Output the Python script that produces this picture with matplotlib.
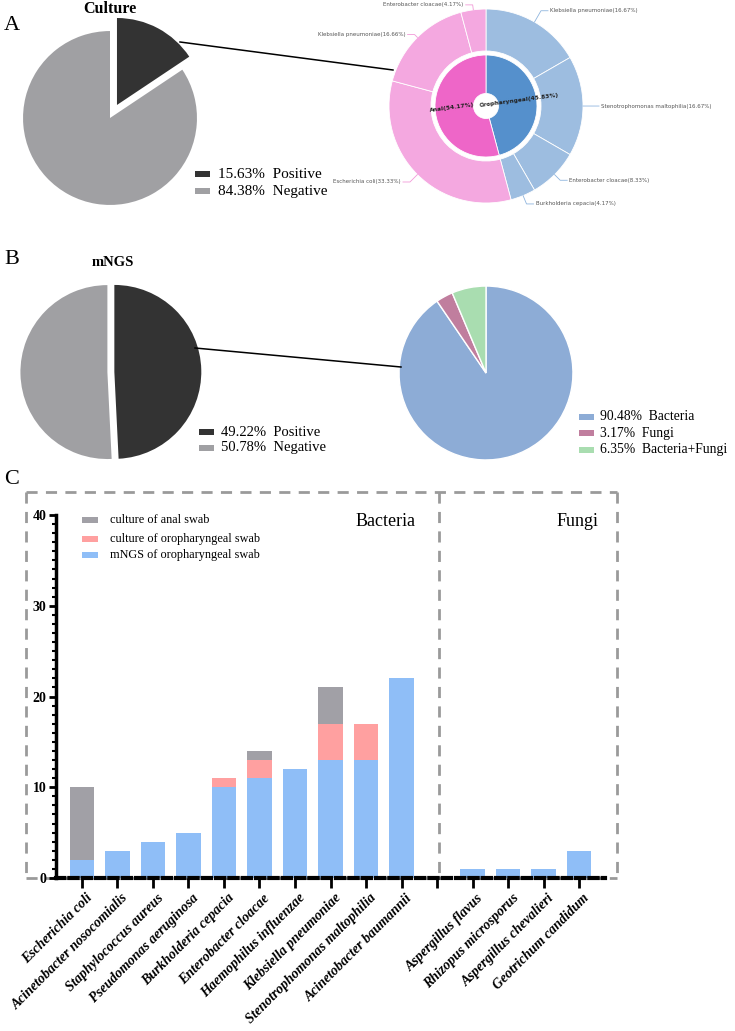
import numpy as np
import matplotlib
matplotlib.use("Agg")
import matplotlib.pyplot as plt
from matplotlib.lines import Line2D
from matplotlib.patches import Rectangle
from matplotlib.transforms import ScaledTranslation

plt.rcParams['font.family'] = ['Liberation Serif', 'DejaVu Serif']

# ---------------- data ----------------
culture_labels = ['Positive', 'Negative']
culture_pct = [15.63, 84.38]

ring_inner_labels = ['Oropharyngeal', 'Anal']
ring_inner_pct = [45.83, 54.17]

ring_outer_labels = ['Klebsiella pneumoniae', 'Stenotrophomonas maltophilia', 'Enterobacter cloacae',
                     'Burkholderia cepacia', 'Escherichia coli', 'Klebsiella pneumoniae',
                     'Enterobacter cloacae']
ring_outer_pct = [16.67, 16.67, 8.33, 4.17, 33.33, 16.66, 4.17]
ring_outer_group = ['oro', 'oro', 'oro', 'oro', 'anal', 'anal', 'anal']

mngs_labels = ['Positive', 'Negative']
mngs_pct = [49.22, 50.78]

type_labels = ['Bacteria', 'Fungi', 'Bacteria+Fungi']
type_pct = [90.48, 3.17, 6.35]

species = ['Escherichia coli', 'Acinetobacter nosocomialis', 'Staphylococcus aureus',
           'Pseudomonas aeruginosa', 'Burkholderia cepacia', 'Enterobacter cloacae',
           'Haemophilus influenzae', 'Klebsiella pneumoniae', 'Stenotrophomonas maltophilia',
           'Acinetobacter baumannii',
           'Aspergillus flavus', 'Rhizopus microsporus', 'Aspergillus chevalieri', 'Geotrichum candidum']
mngs_counts = [2, 3, 4, 5, 10, 11, 12, 13, 13, 22, 1, 1, 1, 3]
oro_counts = [0, 0, 0, 0, 1, 2, 0, 4, 4, 0, 0, 0, 0, 0]
anal_counts = [8, 0, 0, 0, 0, 1, 0, 4, 0, 0, 0, 0, 0, 0]
bar_series = ['culture of anal swab', 'culture of oropharyngeal swab', 'mNGS of oropharyngeal swab']

# ---------------- layout helpers ----------------
W, H = 735, 1031
fig = plt.figure(figsize=(W / 100, H / 100), dpi=100)


def fx(x):
    return x / W


def fy(y):
    return 1 - y / H


def add_ax(x0, y0, w, h):
    return fig.add_axes([x0 / W, 1 - (y0 + h) / H, w / W, h / H])


def fline(xs, ys, **kw):
    fig.add_artist(Line2D([fx(v) for v in xs], [fy(v) for v in ys], transform=fig.transFigure, **kw))


def fbox(x, y, w, h, color):
    fig.add_artist(Rectangle((fx(x), fy(y + h)), w / W, h / H, transform=fig.transFigure,
                             facecolor=color, edgecolor='none'))


DARK = '#333333'
GREY = '#A0A0A3'

# ---------------- panel A ----------------
fig.text(fx(4), fy(25), 'A', fontsize=16, va='center', ha='left')
fig.text(fx(110), fy(9), 'Culture', fontsize=11.5, fontweight='bold', ha='center', va='center')

ax1 = add_ax(10, 18, 200, 200)
ax1.pie(culture_pct, colors=[DARK, GREY], startangle=90, counterclock=False,
        explode=[0.17, 0], wedgeprops=dict(linewidth=0))
ax1.set_xlim(-1.15, 1.15)
ax1.set_ylim(-1.15, 1.15)

for i, (lab, p) in enumerate(zip(culture_labels, culture_pct)):
    yy = 174 + i * 17
    fbox(195, yy - 3, 15, 6, [DARK, GREY][i])
    fig.text(fx(218), fy(yy), f'{p:.2f}%  {lab}', fontsize=11, va='center', ha='left')

# donut
ax2 = add_ax(360, 0, 375, 215)
cx, cy = 486, 106
ax2.pie(ring_inner_pct, radius=51, colors=['#5590CC', '#EE66C8'], startangle=90, counterclock=False,
        wedgeprops=dict(width=38.5, edgecolor='white', linewidth=0.6))
outer_cols = ['#9DBDE0' if g == 'oro' else '#F4A8E0' for g in ring_outer_group]
ax2.pie(ring_outer_pct, radius=97, colors=outer_cols, startangle=90, counterclock=False,
        wedgeprops=dict(width=42, edgecolor='white', linewidth=0.6))
ax2.set_xlim(360 - cx, 735 - cx)
ax2.set_ylim(cy - 215, cy - 0)

ax2.text(33, 6, f'{ring_inner_labels[0]}({ring_inner_pct[0]:.2f}%)', rotation=7.5, ha='center',
         va='center', fontsize=4.2, fontweight='bold', family='DejaVu Sans', color='#222222')
ax2.text(-34, -2, f'{ring_inner_labels[1]}({ring_inner_pct[1]:.2f}%)', rotation=7.5, ha='center',
         va='center', fontsize=4.2, fontweight='bold', family='DejaVu Sans', color='#222222')

elbow_r = [110, 106, 105, 106, 107.5, 101, 102]
cum = np.cumsum(ring_outer_pct)
for i, (lab, p) in enumerate(zip(ring_outer_labels, ring_outer_pct)):
    mid = np.deg2rad((cum[i] - p / 2) / 100 * 360)
    sx, sy = 97 * np.sin(mid), 97 * np.cos(mid)
    ex, ey = elbow_r[i] * np.sin(mid), elbow_r[i] * np.cos(mid)
    side = 1 if np.sin(mid) > 0 else -1
    hx = ex + side * 7
    lc = '#8FB5DE' if ring_outer_group[i] == 'oro' else '#F29AD8'
    ax2.plot([sx, ex, hx], [sy, ey, ey], color=lc, lw=0.6)
    ax2.text(hx + side * 2, ey, f'{lab}({p:.2f}%)', ha='left' if side > 0 else 'right',
             va='center', fontsize=4, family='DejaVu Sans', color='#555555')

fline([180, 393], [42, 70], color='black', lw=1.1)

# ---------------- panel B ----------------
fig.text(fx(4), fy(260), 'B', fontsize=16, va='center', ha='left')
fig.text(fx(113), fy(262), 'mNGS', fontsize=10.5, fontweight='bold', ha='center', va='center')

ax3 = add_ax(10, 272, 200, 200)
ax3.pie(mngs_pct, colors=[DARK, GREY], startangle=90, counterclock=False,
        explode=[0.05, 0.03], wedgeprops=dict(linewidth=0))
ax3.set_xlim(-1.15, 1.15)
ax3.set_ylim(-1.15, 1.15)

for i, (lab, p) in enumerate(zip(mngs_labels, mngs_pct)):
    yy = 432 + i * 16
    fbox(199, yy - 3, 15, 6, [DARK, GREY][i])
    fig.text(fx(221), fy(yy), f'{p:.2f}%  {lab}', fontsize=10.5, va='center', ha='left')

ax4 = add_ax(386, 273, 200, 200)
type_cols = ['#8DACD6', '#C07E9E', '#A9DDB0']
ax4.pie(type_pct, colors=type_cols, startangle=90, counterclock=False,
        wedgeprops=dict(linewidth=1, edgecolor='white'))
ax4.set_xlim(-1.15, 1.15)
ax4.set_ylim(-1.15, 1.15)

for i, (lab, p) in enumerate(zip(type_labels, type_pct)):
    yy = 417 + i * 16.5
    fbox(579, yy - 3, 15, 6, type_cols[i])
    fig.text(fx(600), fy(yy), f'{p:.2f}%  {lab}', fontsize=9.8, va='center', ha='left')

fline([195, 401], [348, 367], color='black', lw=1.1)

# ---------------- panel C ----------------
fig.text(fx(4), fy(479), 'C', fontsize=16, va='center', ha='left')

box_kw = dict(color='#9A9A9A', lw=2, linestyle=(0, (4, 3)), zorder=0)
fline([26, 617], [492, 492], **box_kw)
fline([26, 26], [492, 878], **box_kw)
fline([617, 617], [492, 878], **box_kw)
fline([26, 617], [878, 878], **box_kw)
fline([439, 439], [492, 878], **box_kw)

ax5 = fig.add_axes([56 / W, 1 - 878 / H, (605 - 56) / W, (878 - 515) / H])
ax5.patch.set_alpha(0)
pos = list(range(10)) + [11, 12, 13, 14]
BLUE = '#8FBEF7'
PINK = '#FFA0A0'
BGREY = '#A1A0A6'
mngs_a = np.array(mngs_counts)
oro_a = np.array(oro_counts)
anal_a = np.array(anal_counts)
ax5.bar(pos, mngs_a, width=0.68, color=BLUE, zorder=2)
ax5.bar(pos, oro_a, width=0.68, bottom=mngs_a, color=PINK, zorder=2)
ax5.bar(pos, anal_a, width=0.68, bottom=mngs_a + oro_a, color=BGREY, zorder=2)

ax5.set_xlim(-0.73, 14.73)
ax5.set_ylim(0, 40)
for s in ['top', 'right']:
    ax5.spines[s].set_visible(False)
ax5.spines['left'].set_linewidth(2.5)
ax5.spines['bottom'].set_linewidth(3)
ax5.spines['bottom'].set_linestyle((0, (2, 1.2)))
ax5.spines['bottom'].set_zorder(3)

ax5.set_yticks([0, 10, 20, 30, 40])
ax5.set_yticks(range(0, 41), minor=True)
ax5.tick_params(axis='y', which='major', direction='out', length=5, width=2, labelsize=10, pad=2)
ax5.tick_params(axis='y', which='minor', direction='out', length=3, width=1.5)
for lbl in ax5.get_yticklabels():
    lbl.set_fontweight('bold')

ax5.set_xticks(range(15))
xt_labels = species[:10] + [''] + species[10:]
ax5.set_xticklabels(xt_labels, rotation=45, ha='right', va='center', rotation_mode='anchor',
                    fontsize=10, fontweight='bold', fontstyle='italic')
ax5.tick_params(axis='x', direction='out', length=7, width=2, pad=6)
off = ScaledTranslation(6 / 72, 0, fig.dpi_scale_trans)
for lbl in ax5.get_xticklabels():
    lbl.set_transform(lbl.get_transform() + off)

leg_cols = [BGREY, PINK, BLUE]
for i, (lab, yy) in enumerate(zip(bar_series, [520, 539, 555])):
    fbox(82, yy - 3, 16, 6, leg_cols[i])
    fig.text(fx(110), fy(yy), lab, fontsize=8.8, va='center', ha='left')

fig.text(fx(386), fy(521), 'Bacteria', fontsize=13, ha='center', va='center')
fig.text(fx(577), fy(521), 'Fungi', fontsize=13, ha='center', va='center')

fig.savefig('out.png', dpi=100)
